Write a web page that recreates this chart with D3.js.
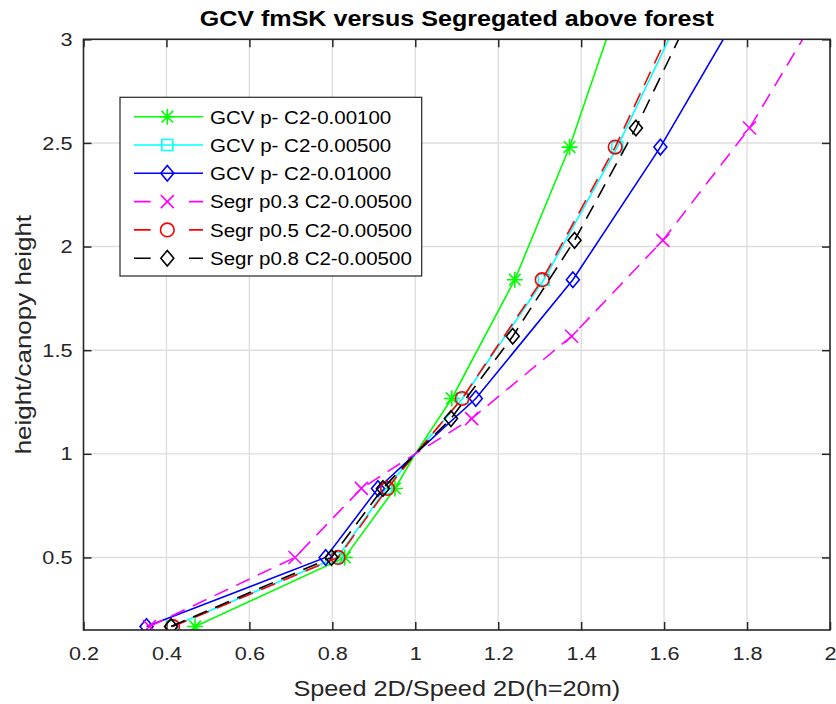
<!DOCTYPE html>
<html><head><meta charset="utf-8">
<script src="https://cdn.jsdelivr.net/npm/d3@7"></script>
<style>body{margin:0;background:#fff}svg{display:block}</style>
</head><body><svg id="c" width="836" height="704"></svg>
<script>
// ---- data ----
const xTicks = [0.2,0.4,0.6,0.8,1,1.2,1.4,1.6,1.8,2];
const yTicks = [0.5,1,1.5,2,2.5,3];
const yGCV  = [0.167,0.5,0.833,1,1.267,1.84,2.48,3.2];
const ySegr = [0.167,0.5,0.833,1,1.17,1.567,2.03,2.572,3.15];
const xGCV001 = [0.469,0.830,0.951,1,1.088,1.240,1.372,1.495];
const xGCV005 = [0.413,0.812,0.930,1,1.114,1.310,1.487,1.659];
const xGCV010 = [0.352,0.784,0.910,1,1.146,1.380,1.591,1.801];
const xSegr03 = [0.359,0.710,0.870,1,1.136,1.377,1.597,1.806,1.979];
const xSegr05 = [0.415,0.814,0.933,1,1.113,1.306,1.482,1.651];
const xSegr08 = [0.411,0.798,0.922,1,1.086,1.235,1.384,1.532,1.671];
const refHeight = 1; // normalisation level (h = 20 m): line passes through it, no marker drawn
const seriesNames = ["GCV p- C2-0.00100","GCV p- C2-0.00500","GCV p- C2-0.01000",
  "Segr p0.3 C2-0.00500","Segr p0.5 C2-0.00500","Segr p0.8 C2-0.00500"];

const series = [
  {name:seriesNames[0], xs:xGCV001, ys:yGCV,  color:"#00ff00", dash:null, marker:"star"},
  {name:seriesNames[1], xs:xGCV005, ys:yGCV,  color:"#00ffff", dash:null, marker:"square"},
  {name:seriesNames[2], xs:xGCV010, ys:yGCV,  color:"#0000ff", dash:null, marker:"diamond"},
  {name:seriesNames[3], xs:xSegr03, ys:ySegr, color:"#ff00ff", dash:"15,9", marker:"x"},
  {name:seriesNames[4], xs:xSegr05, ys:yGCV,  color:"#ff0000", dash:"15,9", marker:"circle"},
  {name:seriesNames[5], xs:xSegr08, ys:ySegr, color:"#000000", dash:"15,9", marker:"diamond"}
];

const FONT = "'Liberation Sans', Arial, Helvetica, sans-serif";
const svg = d3.select("#c");
const L=83.5, R=830, T=39.3, B=630;
const x = d3.scaleLinear().domain([0.2,2]).range([L,R]);
const y = d3.scaleLinear().domain([0.15,3]).range([B,T]);

// grid
const g = svg.append("g");
g.selectAll("line.gx").data(xTicks.slice(1,-1)).join("line")
  .attr("x1",d=>x(d)).attr("x2",d=>x(d)).attr("y1",T).attr("y2",B)
  .attr("stroke","#dedede").attr("stroke-width",1.4);
g.selectAll("line.gy").data(yTicks.slice(0,-1)).join("line")
  .attr("x1",L).attr("x2",R).attr("y1",d=>y(d)).attr("y2",d=>y(d))
  .attr("stroke","#dedede").attr("stroke-width",1.4);

// axes, ticks inward on all four sides
const tl = 8;
const xAx = svg.append("g").attr("transform",`translate(0,${B})`)
  .call(d3.axisBottom(x).tickValues(xTicks).tickSize(-tl).tickPadding(17).tickFormat(d3.format("~g")));
const yAx = svg.append("g").attr("transform",`translate(${L},0)`)
  .call(d3.axisLeft(y).tickValues(yTicks).tickSize(-tl).tickPadding(9.7).tickFormat(d3.format("~g")));
const xTop = svg.append("g").attr("transform",`translate(0,${T})`)
  .call(d3.axisTop(x).tickValues(xTicks).tickSize(-tl).tickFormat(""));
const yRight = svg.append("g").attr("transform",`translate(${R},0)`)
  .call(d3.axisRight(y).tickValues(yTicks).tickSize(-tl).tickFormat(""));
[xAx,yAx,xTop,yRight].forEach(a=>{
  a.select(".domain").remove();
  a.selectAll(".tick line").attr("stroke","#262626").attr("stroke-width",1.5);
  a.selectAll(".tick text").attr("fill","#262626").attr("font-family",FONT).attr("font-size",19)
    .attr("transform","scale(1.14,1)");
});

// clip
svg.append("clipPath").attr("id","clip").append("rect")
  .attr("x",L).attr("y",T).attr("width",R-L).attr("height",B-T);

function markerPath(type){
  switch(type){
    case "star": {const a=8,b=5.8; return `M${-a},0H${a}M0,${-a}V${a}M${-b},${-b}L${b},${b}M${-b},${b}L${b},${-b}`;}
    case "square": {const s=5.5; return `M${-s},${-s}H${s}V${s}H${-s}Z`;}
    case "diamond": {const w=6.5,h=7.8; return `M0,${-h}L${w},0L0,${h}L${-w},0Z`;}
    case "x": {const s=6.5; return `M${-s},${-s}L${s},${s}M${-s},${s}L${s},${-s}`;}
    case "circle": {const r=6.8; return `M${r},0A${r},${r} 0 1 1 ${-r},0A${r},${r} 0 1 1 ${r},0Z`;}
  }
}

const plot = svg.append("g").attr("clip-path","url(#clip)");
const line = d3.line().x(d=>x(d[0])).y(d=>y(d[1]));
series.forEach(s=>{
  const pts = s.xs.map((v,i)=>[v,s.ys[i]]);
  plot.append("path").datum(pts).attr("d",line).attr("fill","none")
    .attr("stroke",s.color).attr("stroke-width",1.6)
    .attr("stroke-dasharray",s.dash);
  plot.selectAll(null).data(pts.filter(d=>d[1]!==refHeight)).join("path")
    .attr("transform",d=>`translate(${x(d[0])},${y(d[1])})`)
    .attr("d",markerPath(s.marker)).attr("fill","none")
    .attr("stroke",s.color).attr("stroke-width",1.6);
});

// box
svg.append("rect").attr("x",L).attr("y",T).attr("width",R-L).attr("height",B-T)
  .attr("fill","none").attr("stroke","#262626").attr("stroke-width",1.6);

// legend
const lg = svg.append("g");
lg.append("rect").attr("x",120).attr("y",97.3).attr("width",301.7).attr("height",178.7)
  .attr("fill","#fff").attr("stroke","#262626").attr("stroke-width",1.2);
series.forEach((s,i)=>{
  const yy = 116.7 + i*28.3;
  lg.append("line").attr("x1",134).attr("x2",203).attr("y1",yy).attr("y2",yy)
    .attr("stroke",s.color).attr("stroke-width",1.6).attr("stroke-dasharray",s.dash?"16.7,38.3,14,10":null);
  lg.append("path").attr("transform",`translate(167.3,${yy})`).attr("d",markerPath(s.marker))
    .attr("fill","none").attr("stroke",s.color).attr("stroke-width",1.6);
  lg.append("text").attr("transform",`translate(210,${yy}) scale(1.08,1)`).attr("dy","0.36em")
    .attr("font-family",FONT).attr("font-size",19).attr("fill","#000").text(s.name);
});

// titles
svg.append("text").attr("transform",`translate(${(L+R)/2},26) scale(1.14,1)`).attr("text-anchor","middle")
  .attr("font-family",FONT).attr("font-weight","bold").attr("font-size",22).attr("fill","#000")
  .text("GCV fmSK versus Segregated above forest");
svg.append("text").attr("transform",`translate(${(L+R)/2},696) scale(1.15,1)`).attr("text-anchor","middle")
  .attr("font-family",FONT).attr("font-size",22).attr("fill","#262626")
  .text("Speed 2D/Speed 2D(h=20m)");
svg.append("text").attr("transform",`translate(31,${(T+B)/2}) rotate(-90) scale(1.18,1)`).attr("text-anchor","middle")
  .attr("font-family",FONT).attr("font-size",22).attr("fill","#262626")
  .text("height/canopy height");
</script></body></html>
